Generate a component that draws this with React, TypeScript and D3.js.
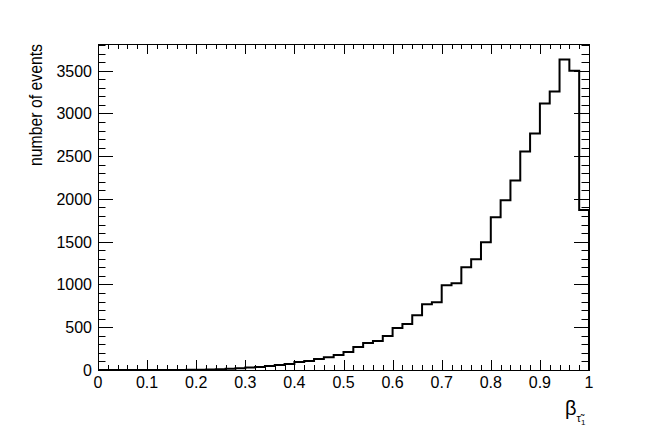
import React from "react";
import * as d3 from "d3";

const binEdgesStep = 0.02;
const counts: number[] = [
  0, 0, 0, 0, 0, 0, 0, 1, 1, 2,
  3, 6, 10, 15, 20, 30, 35, 47, 58, 70,
  93, 105, 128, 150, 175, 210, 268, 315, 338, 397,
  490, 537, 640, 770, 793, 990, 1015, 1200, 1295, 1494,
  1785, 1984, 2217, 2555, 2765, 3115, 3255, 3630, 3500, 1870,
];
const xTickLabels = ["0", "0.1", "0.2", "0.3", "0.4", "0.5", "0.6", "0.7", "0.8", "0.9", "1"];
const yTickValues = [0, 500, 1000, 1500, 2000, 2500, 3000, 3500];
const yTitle = "number of events";

const W = 654, H = 436;
const L = 98, R = 589, T = 44, B = 370;

export default function App() {
  const x = d3.scaleLinear().domain([0, 1]).range([L, R]);
  const yMax = d3.max(counts)! * 1.05;
  const y = d3.scaleLinear().domain([0, yMax]).range([B, T]);

  const pts: [number, number][] = [[x(0), y(0)]];
  counts.forEach((c, i) => {
    const x0 = i * binEdgesStep, x1 = (i + 1) * binEdgesStep;
    pts.push([x(x0), y(c)]);
    pts.push([x(x1), y(c)]);
  });
  pts.push([x(1), y(0)]);
  const path = d3.line()(pts) || "";

  const xMinor = d3.range(0, 51).map((i) => i * 0.02);
  const xMajor = d3.range(0, 11).map((i) => i * 0.1);
  const yMinor = d3.range(0, Math.floor(yMax / 100) + 1).map((i) => i * 100);

  const xMajLen = 10, xMinLen = 5, yMajLen = 15, yMinLen = 7.5;
  const font = "'Liberation Sans', Arial, Helvetica, sans-serif";

  return (
    <svg width={W} height={H} style={{ position: "absolute", left: 0, top: 0, background: "#fff" }}>
      <rect x={0} y={0} width={W} height={H} fill="#fff" />
      <g stroke="#000" strokeWidth={1}>
        {xMinor.map((v, i) => {
          const isMaj = i % 5 === 0;
          const len = isMaj ? xMajLen : xMinLen;
          const px = Math.round(x(v)) + 0.5;
          return (
            <g key={"xt" + i}>
              <line x1={px} x2={px} y1={B} y2={B - len} />
              <line x1={px} x2={px} y1={T} y2={T + len} />
            </g>
          );
        })}
        {yMinor.map((v, i) => {
          const isMaj = v % 500 === 0;
          const len = isMaj ? yMajLen : yMinLen;
          const py = Math.round(y(v)) + 0.5;
          return (
            <g key={"yt" + i}>
              <line x1={L} x2={L + len} y1={py} y2={py} />
              <line x1={R} x2={R - len} y1={py} y2={py} />
            </g>
          );
        })}
      </g>
      <rect x={L + 0.5} y={T + 0.5} width={R - L} height={B - T} fill="none" stroke="#000" strokeWidth={1} />
      <path d={path} fill="none" stroke="#000" strokeWidth={2} strokeLinejoin="miter" />
      <g fontFamily={font} fontSize={16} fill="#000" textAnchor="middle">
        {xMajor.map((v, i) => (
          <text key={"xl" + i} x={x(v)} y={388}>{xTickLabels[i]}</text>
        ))}
      </g>
      <g fontFamily={font} fontSize={16} fill="#000" textAnchor="end">
        {yTickValues.map((v, i) => (
          <text key={"yl" + i} x={92} y={y(v) + 6}>{String(v)}</text>
        ))}
      </g>
      <text
        fontFamily={font}
        fontSize={19}
        fill="#000"
        textAnchor="end"
        transform={`translate(42,${T}) rotate(-90)`}
        textLength={122}
        lengthAdjust="spacingAndGlyphs"
      >
        {yTitle}
      </text>
      <text fontFamily={font} fill="#000" x={565} y={415} fontSize={20}>
        β
        <tspan fontSize={11} dy={7}>{"τ\u0303"}</tspan>
        <tspan fontSize={8} dy={3}>1</tspan>
      </text>
    </svg>
  );
}
